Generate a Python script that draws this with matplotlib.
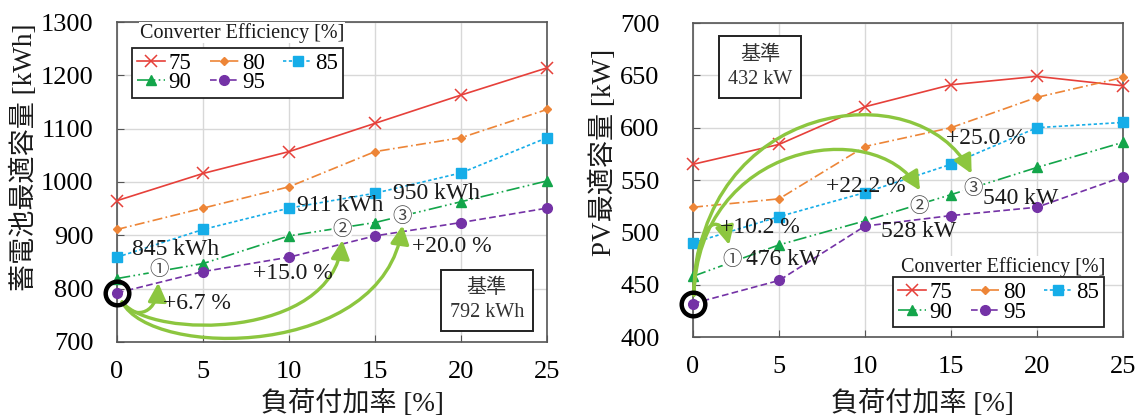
import matplotlib
matplotlib.use('Agg')
import matplotlib.pyplot as plt
from matplotlib.patches import FancyArrowPatch
from matplotlib.path import Path

plt.rcParams['font.family'] = ['Liberation Serif', 'Noto Sans CJK JP']
plt.rcParams['axes.unicode_minus'] = False

# 負荷付加率 [%]
rates = [0, 5, 10, 15, 20, 25]
eff_labels = ['75', '80', '85', '90', '95']

# 蓄電池最適容量 [kWh]
bat_75 = [965, 1016, 1057, 1110, 1163, 1214]
bat_80 = [911, 951, 991, 1057, 1083, 1136]
bat_85 = [859, 911, 951, 979, 1017, 1083]
bat_90 = [819, 847, 899, 924, 963, 1002]
bat_95 = [792, 832, 859, 899, 924, 951]

# PV最適容量 [kW]
pv_75 = [565, 584, 620, 641, 649, 640]
pv_80 = [524, 532, 582, 600, 629, 648]
pv_85 = [490, 515, 538, 565, 600, 605]
pv_90 = [458, 488, 511, 536, 562, 586]
pv_95 = [432, 454, 506, 516, 524, 553]

styles = [
    dict(color='#e6403a', ls='-', marker='x', ms=8, mew=1.1),
    dict(color='#ed8537', ls=(0, (6, 2, 1, 2)), marker='D', ms=4.5),
    dict(color='#16ade8', ls=(0, (2, 1.5)), marker='s', ms=6.5),
    dict(color='#13a54a', ls=(0, (8, 2, 1, 2, 1, 2)), marker='^', ms=6.5),
    dict(color='#7432a6', ls=(0, (4, 2)), marker='o', ms=7),
]

GREEN = '#8cc63f'
TXT = '#1a1a1a'


def draw_series(ax, series):
    handles = []
    for vals, st in zip(series, styles):
        h, = ax.plot(rates, vals, lw=1.2, clip_on=False, zorder=3, **st)
        handles.append(h)
    return handles


def setup_axes(ax, ylim, yticks):
    ax.set_xlim(0, 25)
    ax.set_ylim(*ylim)
    ax.set_xticks(rates)
    ax.set_yticks(yticks)
    ax.grid(True, color='#d8d8d8', lw=1)
    ax.set_axisbelow(True)
    ax.tick_params(direction='in', length=5, labelsize=19, color='#555555')
    ax.tick_params(axis='y', pad=17)
    ax.tick_params(axis='x', pad=14)
    for s in ax.spines.values():
        s.set_color('#555555')
        s.set_linewidth(1.2)


def add_legend(ax, handles, box_xy, title_xy):
    order = [0, 3, 1, 4, 2]
    leg = ax.legend([handles[i] for i in order], [eff_labels[i] for i in order],
                    ncol=3, loc='upper left', bbox_to_anchor=box_xy,
                    borderaxespad=0, fontsize=16.5, frameon=True, fancybox=False,
                    edgecolor='#222222', framealpha=1, handlelength=1.25,
                    handletextpad=0.15, columnspacing=0.8, labelspacing=-0.05,
                    borderpad=0.2)
    leg.get_frame().set_linewidth(1.3)
    leg.set_zorder(6)
    ax.text(title_xy[0], title_xy[1], 'Converter Efficiency [%]', transform=ax.transAxes,
            ha='center', va='center', fontsize=14.5, color=TXT, zorder=6,
            bbox=dict(fc='white', ec='none', pad=0.5))


def green_arrow(ax, pts):
    # 3次ベジェ曲線の矢印 (start, c1, c2, end)
    path = Path(pts, [Path.MOVETO, Path.CURVE4, Path.CURVE4, Path.CURVE4])
    arr = FancyArrowPatch(path=path, arrowstyle='-|>,head_length=0.8,head_width=0.4',
                          color=GREEN, lw=2.4, mutation_scale=14,
                          transform=ax.transData, clip_on=False, zorder=5)
    ax.add_patch(arr)


def circled(ax, x, y, s):
    ax.text(x, y, s, ha='center', va='center', fontsize=14, color='#444444',
            family=['Noto Sans CJK JP'], zorder=6,
            bbox=dict(boxstyle='circle,pad=0.02', fc='white', ec='none'))


def label(ax, x, y, s, size=17):
    ax.text(x, y, s, ha='left', va='center', fontsize=size, color=TXT, zorder=6)


def base_box(ax, x, y, s):
    ax.text(x, y, s, ha='center', va='center', fontsize=14.5,
            color='#333333', linespacing=1.35, zorder=6,
            bbox=dict(boxstyle='square,pad=0.45', fc='white', ec='#222222', lw=1.4))


fig = plt.figure(figsize=(11.37, 4.16), dpi=100)
ax1 = fig.add_axes([0.1029, 0.1779, 0.3782, 0.7692])
ax2 = fig.add_axes([0.6095, 0.1899, 0.3782, 0.7548])

# ---- 左: 蓄電池 ----
setup_axes(ax1, (700, 1300), range(700, 1301, 100))
h1 = draw_series(ax1, [bat_75, bat_80, bat_85, bat_90, bat_95])
ax1.plot([0], [bat_95[0]], marker='o', ms=17, mfc='none', mec='black', mew=3.2,
         clip_on=False, zorder=7)
ax1.set_xlabel('負荷付加率 [%]', fontsize=19.5, color=TXT)
ax1.set_ylabel('蓄電池最適容量 [kWh]', fontsize=19.5, color=TXT)
ax1.xaxis.set_label_coords(0.547, -0.15)
ax1.yaxis.set_label_coords(-0.183, 0.578)
add_legend(ax1, h1, (0.035, 0.919), (0.291, 0.966))

green_arrow(ax1, [(0.3, 775), (0.8, 745), (2.3, 745), (2.4, 811)])
green_arrow(ax1, [(0.3, 775), (2.0, 705), (12.5, 705), (13.1, 891)])
green_arrow(ax1, [(0.3, 775), (2.0, 668), (15.5, 668), (16.6, 919)])

label(ax1, 0.9, 873, '845 kWh')
label(ax1, 10.45, 956, '911 kWh')
label(ax1, 16.05, 979, '950 kWh')
label(ax1, 2.7, 773, '+6.7 %')
label(ax1, 7.9, 829, '+15.0 %')
label(ax1, 17.15, 879, '+20.0 %')
circled(ax1, 2.45, 835, '①')
circled(ax1, 13.1, 910, '②')
circled(ax1, 16.6, 935, '③')
base_box(ax1, 21.5, 778, '基準\n792 kWh')

# ---- 右: PV ----
setup_axes(ax2, (400, 700), range(400, 701, 50))
h2 = draw_series(ax2, [pv_75, pv_80, pv_85, pv_90, pv_95])
ax2.plot([0], [pv_95[0]], marker='o', ms=17, mfc='none', mec='black', mew=3.2,
         clip_on=False, zorder=7)
ax2.set_xlabel('負荷付加率 [%]', fontsize=19.5, color=TXT)
ax2.set_ylabel('PV最適容量 [kW]', fontsize=19.5, color=TXT)
ax2.xaxis.set_label_coords(0.533, -0.169)
ax2.yaxis.set_label_coords(-0.177, 0.589)
ax2.tick_params(axis='y', pad=24)
add_legend(ax2, h2, (0.465, 0.191), (0.721, 0.223))

green_arrow(ax2, [(0.05, 440), (0.1, 512), (1.6, 522), (2.1, 488)])
green_arrow(ax2, [(0.05, 440), (0.3, 585), (10.5, 612), (13.2, 540)])
green_arrow(ax2, [(0.05, 440), (0.3, 625), (13.0, 655), (16.2, 556)])

label(ax2, 1.55, 505, '+10.2 %')
label(ax2, 7.75, 544, '+22.2 %')
label(ax2, 14.7, 590, '+25.0 %')
label(ax2, 3.1, 474, '476 kW')
label(ax2, 10.95, 501, '528 kW')
label(ax2, 16.85, 532, '540 kW')
circled(ax2, 2.25, 474, '①')
circled(ax2, 13.15, 525, '②')
circled(ax2, 16.3, 542, '③')
base_box(ax2, 3.9, 658, '基準\n432 kW')

fig.savefig('out.png', dpi=100)
